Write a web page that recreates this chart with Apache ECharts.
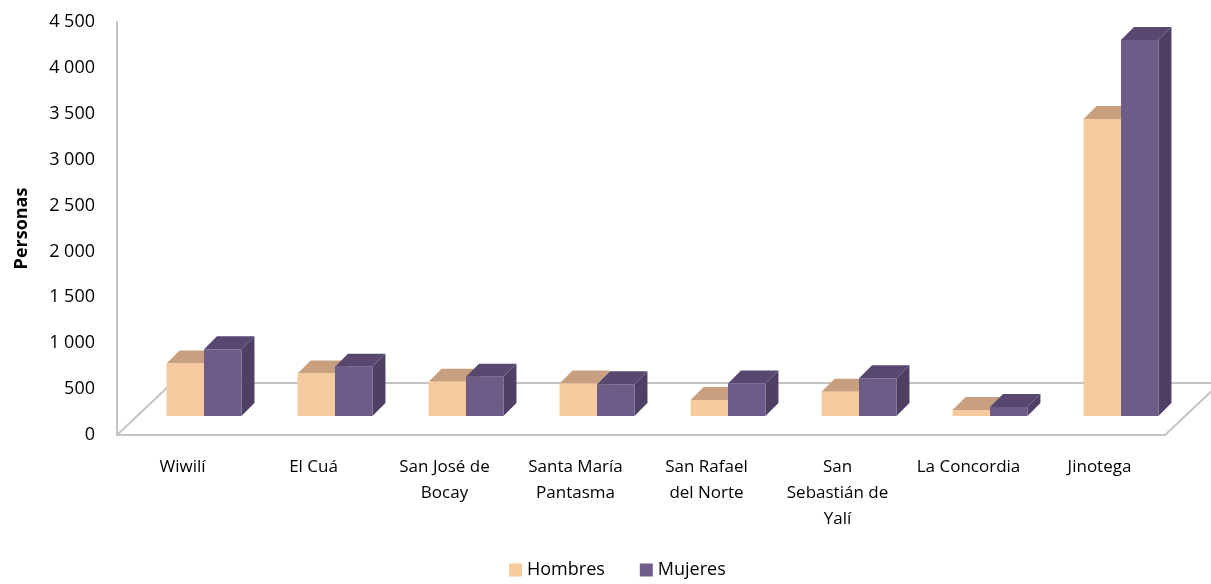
<!DOCTYPE html>
<html>
<head>
<meta charset="UTF-8">
<title></title>
<script src="https://cdn.jsdelivr.net/npm/echarts@6/dist/echarts.min.js"></script>
<style>
	html, body { width: 100%; height: 100%; margin: 0; padding: 0; background: #fff; }
	#chart { width: 1211px; height: 584px; }
</style>
</head>
<body>
<div id="chart"></div>
<script>
	var categories = ['Wiwilí', 'El Cuá', 'San José de Bocay', 'Santa María Pantasma', 'San Rafael del Norte', 'San Sebastián de Yalí', 'La Concordia', 'Jinotega'];
	var tickLabels = ['Wiwilí', 'El Cuá', 'San José de\nBocay', 'Santa María\nPantasma', 'San Rafael\ndel Norte', 'San\nSebastián de\nYalí', 'La Concordia', 'Jinotega'];
	var hombres = [573, 464, 373, 355, 174, 264, 65, 3236];
	var mujeres = [728, 536, 427, 345, 355, 410, 98, 4098];
	var seriesNames = ['Hombres', 'Mujeres'];

	var FONT = '"Open Sans", "Noto Sans", sans-serif';
	// pseudo-3d look: bars sit a bit behind the front edge of the floor
	var DEPTH_X = 13, DEPTH_Y = 13, LIFT = 19, SHIFT = 21.5;

	var faces = [
		{ front: '#F6C99E', top: '#C9A07F', side: '#D2AC8A' },
		{ front: '#6D5B88', top: '#584870', side: '#4F3F65' }
	];

	function barRenderer(slot) {
		return function (params, api) {
			var c = api.coord([api.value(0), 0]);
			var t = api.coord([api.value(0), api.value(1)]);
			var w = api.size([1, 0])[0] * 0.286;
			var x0 = c[0] + SHIFT - w + slot * w;
			var x1 = x0 + w;
			var yb = c[1] - LIFT;
			var yt = t[1] - LIFT;
			var f = faces[slot];
			return {
				type: 'group',
				children: [{
					type: 'polygon',
					shape: { points: [[x1, yt], [x1 + DEPTH_X, yt - DEPTH_Y], [x1 + DEPTH_X, yb - DEPTH_Y], [x1, yb]] },
					style: { fill: f.side }
				}, {
					type: 'polygon',
					shape: { points: [[x0, yt], [x1, yt], [x1 + DEPTH_X, yt - DEPTH_Y], [x0 + DEPTH_X, yt - DEPTH_Y]] },
					style: { fill: f.top }
				}, {
					type: 'rect',
					shape: { x: x0, y: yt, width: w, height: yb - yt },
					style: { fill: f.front }
				}]
			};
		};
	}

	function floorRenderer(params, api) {
		var cs = params.coordSys;
		var l = cs.x, r = cs.x + cs.width, b = cs.y + cs.height;
		var dx = 55, dy = 52;
		return {
			type: 'polyline',
			shape: { points: [[l, b], [l + dx, b - dy], [r + dx, b - dy], [r, b]] },
			style: { stroke: '#C4C4C4', lineWidth: 2, fill: null }
		};
	}

	function toData(arr) {
		return arr.map(function (v, i) { return [i, v]; });
	}

	var myChart = echarts.init(document.getElementById('chart'));
	var option = {
		animation: false,
		backgroundColor: '#fff',
		grid: { left: 117, right: 46, top: 22, bottom: 149 },
		legend: {
			left: 504,
			top: 556,
			itemWidth: 13,
			itemHeight: 13,
			itemGap: 35,
			icon: 'rect',
			textStyle: { fontFamily: FONT, fontSize: 18, color: '#000' },
			data: seriesNames
		},
		xAxis: {
			type: 'category',
			data: categories,
			axisLine: { lineStyle: { color: '#C4C4C4', width: 2 } },
			axisTick: { show: false },
			axisLabel: {
				interval: 0,
				margin: 19,
				fontFamily: FONT,
				fontSize: 17,
				lineHeight: 26,
				color: '#000',
				formatter: function (v, i) { return tickLabels[i]; }
			}
		},
		yAxis: {
			type: 'value',
			min: 0,
			max: 4500,
			interval: 500,
			name: 'Personas',
			nameLocation: 'middle',
			nameRotate: 90,
			nameGap: 86,
			nameTextStyle: { fontFamily: FONT, fontSize: 18, fontWeight: 'bold', color: '#000' },
			axisLine: { show: true, lineStyle: { color: '#C4C4C4', width: 2 } },
			axisTick: { show: false },
			splitLine: { show: false },
			axisLabel: {
				margin: 22,
				fontFamily: FONT,
				fontSize: 18,
				color: '#000',
				formatter: function (v) { return String(v).replace(/\B(?=(\d{3})+(?!\d))/g, ' '); }
			}
		},
		series: [{
			type: 'custom',
			name: 'floor',
			z: 1,
			silent: true,
			renderItem: floorRenderer,
			data: [[0, 0]]
		}, {
			type: 'custom',
			name: seriesNames[0],
			z: 2,
			itemStyle: { color: '#F8CB9D' },
			renderItem: barRenderer(0),
			data: toData(hombres)
		}, {
			type: 'custom',
			name: seriesNames[1],
			z: 3,
			itemStyle: { color: '#715E8D' },
			renderItem: barRenderer(1),
			data: toData(mujeres)
		}]
	};
	myChart.setOption(option);
</script>
</body>
</html>
